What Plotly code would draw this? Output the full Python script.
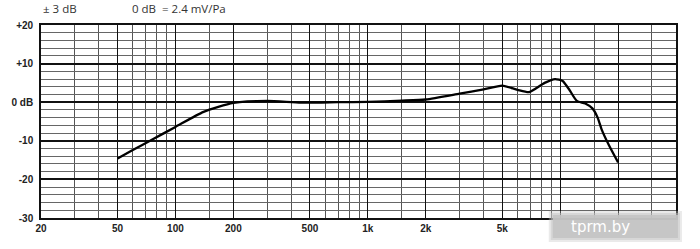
import numpy as np
import plotly.graph_objects as go

# Frequency response data
freq_hz = [50, 60, 75, 100, 140, 200, 300, 450, 700, 1000, 1500, 2000, 3000, 4000,
           5000, 6000, 6900, 8300, 9400, 10300, 11200, 12200, 13500, 14700,
           15600, 16500, 17900, 20000]
level_db = [-14.6, -12.4, -9.8, -6.4, -2.5, -0.2, 0.35, -0.1, 0.0, 0.1, 0.4, 0.7, 2.2, 3.3,
            4.3, 3.2, 2.6, 5.0, 6.0, 5.5, 3.1, 0.35, -0.35, -1.6,
            -3.8, -7.3, -11.1, -15.6]

x_tick_vals = [20, 50, 100, 200, 500, 1000, 2000, 5000, 10000, 20000]
x_tick_text = ["20", "50", "100", "200", "500", "1k", "2k", "5k", "", ""]
x_minor_vals = [30, 40, 60, 70, 80, 90, 150, 300, 400, 600, 700, 800, 900, 1500,
                3000, 4000, 6000, 7000, 8000, 9000, 15000, 30000]
y_tick_vals = [-30, -20, -10, 0, 10, 20]
y_tick_text = ["-30", "-20", "-10", "0 dB", "+10", "+20"]

fig = go.Figure()
fig.add_trace(go.Scatter(
    x=freq_hz, y=level_db, mode="lines",
    line=dict(color="black", width=2.3, shape="spline", smoothing=0.6),
    showlegend=False, hoverinfo="skip",
))

L, R, T, B = 37, 24, 25, 31
W, H = 700, 249

fig.update_layout(
    width=W, height=H,
    margin=dict(l=L, r=R, t=T, b=B),
    plot_bgcolor="white", paper_bgcolor="white",
    font=dict(family="Liberation Sans, Arial", size=10, color="#222"),
    xaxis=dict(
        type="log", range=[np.log10(20), np.log10(40000)],
        tickvals=x_tick_vals, ticktext=x_tick_text,
        showgrid=True, gridcolor="#111", gridwidth=1.4,
        minor=dict(tickvals=x_minor_vals, showgrid=True, gridcolor="#555", gridwidth=1.1, ticks=""),
        showline=True, linecolor="#111", linewidth=1.6, mirror=True,
        ticks="", zeroline=False,
        tickfont=dict(family="Liberation Sans, Arial", size=10, color="#222", weight="bold"),
    ),
    yaxis=dict(
        range=[-30, 20], tickvals=y_tick_vals, ticktext=y_tick_text,
        showgrid=True, gridcolor="#111", gridwidth=1.8,
        minor=dict(dtick=2, showgrid=True, gridcolor="#666", gridwidth=1.4, ticks=""),
        showline=True, linecolor="#111", linewidth=1.6, mirror=True,
        ticks="", zeroline=False, ticklabelstandoff=4,
        tickfont=dict(family="Liberation Sans, Arial", size=10, color="#222", weight="bold"),
    ),
)

# header texts (top of text box at the top edge of the page)
top_y = 1 + T / (H - T - B)
fig.add_annotation(text="± 3 dB", xref="paper", yref="paper",
                   x=(38 - L) / (W - L - R), y=top_y, borderpad=0,
                   xanchor="left", yanchor="top", showarrow=False,
                   font=dict(family="Open Sans", size=11.5, color="#333"))
fig.add_annotation(text="0 dB  = 2.4 mV/Pa", xref="paper", yref="paper",
                   x=(128 - L) / (W - L - R), y=top_y, borderpad=0,
                   xanchor="left", yanchor="top", showarrow=False,
                   font=dict(family="Open Sans", size=11.5, color="#333"))

# watermark
def px_x(p):
    return (p - L) / (W - L - R)

def px_y(p):
    return (H - B - p) / (H - T - B)

for i, op in enumerate([0.35, 0.5, 0.9]):
    d = 4 - 2 * i
    fig.add_shape(type="rect", xref="paper", yref="paper", layer="above",
                  x0=px_x(552 - d), x1=px_x(678 + d), y0=px_y(238 + d), y1=px_y(215 - d),
                  fillcolor="#c4c4c4", opacity=op, line=dict(width=0))
fig.add_annotation(text="tprm.by", xref="paper", yref="paper",
                   x=px_x(600), y=px_y(227), xanchor="center", yanchor="middle",
                   showarrow=False, font=dict(family="DejaVu Sans", size=15, color="white"))

fig.write_html("out.html")
